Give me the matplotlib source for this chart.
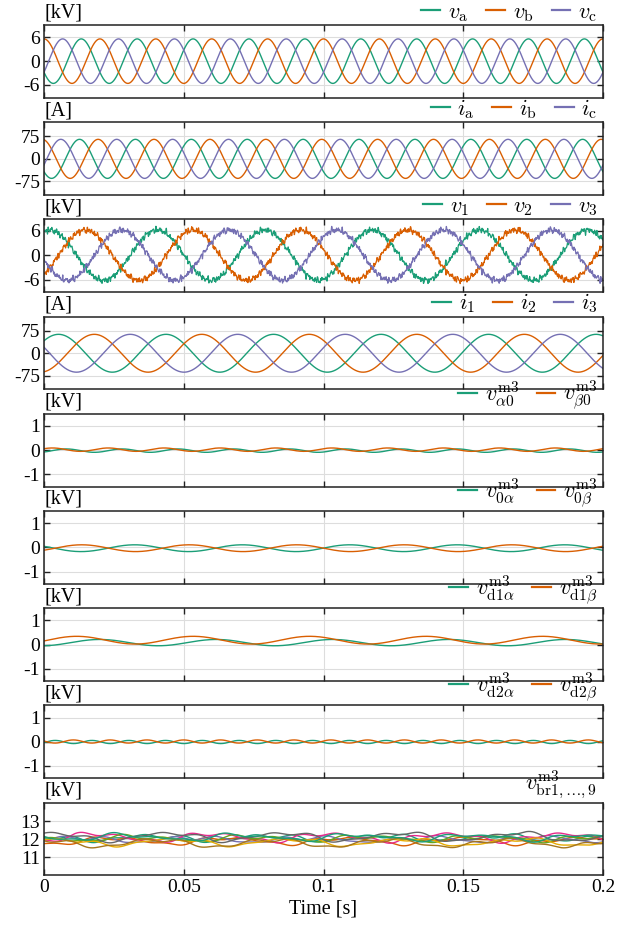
import matplotlib
matplotlib.use("Agg")
import matplotlib.pyplot as plt
import numpy as np

plt.rcParams['font.family'] = ['Liberation Serif', 'DejaVu Serif']
plt.rcParams['mathtext.fontset'] = 'cm'

C_GREEN = '#1b9e77'
C_ORANGE = '#d95f02'
C_PURPLE = '#7570b3'
BR_COLORS = ['#1b9e77', '#d95f02', '#7570b3', '#e7298a', '#66a61e',
             '#e6ab02', '#a6761d', '#666666', '#1b9e77']

# frequencies [Hz]
f_in = 50.0
f_out = 26.0
f_d1 = f_in - f_out
f_d2 = f_in + f_out

# grid side voltages / currents (amplitude, phase of a, b, c)
v_in_amp = 5.6
v_in_phase = [2.094, 0.0, -2.094]
i_in_amp = 65.0
i_in_phase = [2.29, 0.2, -1.89]

# machine side voltages / currents
v_out_amp = 6.2
v_out_phase = [-0.33, -2.42, 1.76]
i_out_amp = 63.0
i_out_phase = [-0.85, -2.94, -5.04]

# switching ripple on v1..v3 (frequency, amplitude, phases per phase)
ripple_freq = [410, 590, 830, 1070, 1330, 1610, 1990, 2410, 2930]
ripple_amp = [0.18, 0.2, 0.2, 0.19, 0.18, 0.17, 0.16, 0.14, 0.12]
ripple_phase = [
    [0.3, 2.1, 4.0, 1.2, 5.5, 3.3, 0.8, 2.7, 4.9],
    [1.7, 4.6, 0.2, 3.9, 2.4, 5.9, 1.1, 4.4, 0.6],
    [5.1, 0.9, 2.8, 5.6, 0.5, 1.8, 3.7, 6.0, 2.3],
]

# alpha-beta-0 circulating voltages [kV]: (amplitude, time of crest, offset)
va0 = [(0.07, 0.008, -0.02), (0.07, 0.003, 0.02)]
v0a = [(0.14, -0.006, -0.035), (0.14, 0.0135, -0.035)]
vd1 = [(0.13, 0.020, 0.08), (0.16, 0.0117, 0.18)]
vd2 = [(0.065, 0.004, -0.01), (0.065, 0.0105, 0.01)]

# branch capacitor voltages [kV]
br_offset = [12.08, 11.92, 12.0, 12.12, 12.05, 11.85, 11.8, 12.15, 12.12]
br_a1 = [0.14, 0.17, 0.12, 0.2, 0.12, 0.17, 0.2, 0.22, 0.14]
br_p1 = [0.5, 2.6, 4.4, 3.5, 1.4, 5.6, 0.2, 5.9, 2.0]
br_a2 = [0.06, 0.05, 0.08, 0.05, 0.07, 0.06, 0.05, 0.06, 0.08]
br_p2 = [3.1, 1.0, 5.2, 2.2, 4.1, 0.6, 2.9, 1.6, 4.8]
br_a3 = [0.08, 0.07, 0.06, 0.09, 0.07, 0.06, 0.08, 0.07, 0.06]
br_p3 = [1.3, 4.2, 2.5, 0.4, 5.3, 3.6, 1.9, 4.7, 0.9]

t = np.linspace(0, 0.2, 4001)
w = 2 * np.pi


def sine(amp, f, ph):
    return amp * np.cos(w * f * t + ph)


def crest(p, f):
    amp, tc, off = p
    return off + amp * np.cos(w * f * (t - tc))


fig = plt.figure(figsize=(6.34, 9.27), dpi=100)
H = 927.0
left, width = 44 / 634, 559 / 634
ax_h = 72.7
axes = []
for k in range(9):
    top = 25 + 97.2 * k
    ax = fig.add_axes([left, 1 - (top + ax_h) / H, width, ax_h / H])
    axes.append(ax)

panels = [
    ('[kV]', [6, 0, -6], (-9.2, 9.1), ['6', '0', '-6']),
    ('[A]', [75, 0, -75], (-120, 122), ['75', '0', '-75']),
    ('[kV]', [6, 0, -6], (-9.1, 8.8), ['6', '0', '-6']),
    ('[A]', [75, 0, -75], (-120, 122), ['75', '0', '-75']),
    ('[kV]', [1, 0, -1], (-1.5, 1.5), ['1', '0', '-1']),
    ('[kV]', [1, 0, -1], (-1.5, 1.5), ['1', '0', '-1']),
    ('[kV]', [1, 0, -1], (-1.5, 1.5), ['1', '0', '-1']),
    ('[kV]', [1, 0, -1], (-1.5, 1.5), ['1', '0', '-1']),
    ('[kV]', [13, 12, 11], (10, 14.05), ['13', '12', '11']),
]

lw = 1.0
# panel 1
names = [r'$v_\mathrm{a}$', r'$v_\mathrm{b}$', r'$v_\mathrm{c}$']
for ph, c, n in zip(v_in_phase, [C_GREEN, C_ORANGE, C_PURPLE], names):
    axes[0].plot(t, sine(v_in_amp, f_in, ph), color=c, lw=lw, label=n)
# panel 2
names = [r'$i_\mathrm{a}$', r'$i_\mathrm{b}$', r'$i_\mathrm{c}$']
for ph, c, n in zip(i_in_phase, [C_GREEN, C_ORANGE, C_PURPLE], names):
    axes[1].plot(t, sine(i_in_amp, f_in, ph), color=c, lw=lw, label=n)
# panel 3
names = [r'$v_1$', r'$v_2$', r'$v_3$']
for k, (ph, c, n) in enumerate(zip(v_out_phase, [C_GREEN, C_ORANGE, C_PURPLE], names)):
    y = sine(v_out_amp, f_out, ph)
    for fr, a, p in zip(ripple_freq, ripple_amp, ripple_phase[k]):
        y = y + sine(a, fr, p)
    axes[2].plot(t, y, color=c, lw=0.9, label=n)
# panel 4
names = [r'$i_1$', r'$i_2$', r'$i_3$']
for ph, c, n in zip(i_out_phase, [C_GREEN, C_ORANGE, C_PURPLE], names):
    axes[3].plot(t, sine(i_out_amp, f_out, ph), color=c, lw=lw, label=n)
# panels 5-8
pairs = [
    (va0, f_in, [r'$v^\mathrm{m3}_{\alpha0}$', r'$v^\mathrm{m3}_{\beta0}$']),
    (v0a, f_out, [r'$v^\mathrm{m3}_{0\alpha}$', r'$v^\mathrm{m3}_{0\beta}$']),
    (vd1, f_d1, [r'$v^\mathrm{m3}_{\mathrm{d}1\alpha}$', r'$v^\mathrm{m3}_{\mathrm{d}1\beta}$']),
    (vd2, f_d2, [r'$v^\mathrm{m3}_{\mathrm{d}2\alpha}$', r'$v^\mathrm{m3}_{\mathrm{d}2\beta}$']),
]
for k, (pp, f, nm) in enumerate(pairs):
    ax = axes[4 + k]
    ax.plot(t, crest(pp[0], f), color=C_GREEN, lw=lw, label=nm[0])
    ax.plot(t, crest(pp[1], f), color=C_ORANGE, lw=lw, label=nm[1])
# panel 9
for k in range(9):
    y = (br_offset[k] + sine(br_a1[k], f_d1, br_p1[k])
         + sine(br_a2[k], f_in, br_p2[k]) + sine(br_a3[k], f_d2, br_p3[k]))
    axes[8].plot(t, y, color=BR_COLORS[k], lw=lw)

for k, ax in enumerate(axes):
    unit, ticks, lim, tl = panels[k]
    ax.set_xlim(0, 0.2)
    ax.set_ylim(*lim)
    ax.set_yticks(ticks)
    ax.set_yticklabels(tl)
    ax.set_xticks([0, 0.05, 0.1, 0.15, 0.2])
    ax.grid(True, color='#dddddd', lw=0.8)
    ax.set_axisbelow(True)
    ax.tick_params(direction='in', top=True, right=True, length=4,
                   width=1.0, labelsize=14, color='#222222', pad=3)
    for s in ax.spines.values():
        s.set_color('#222222')
        s.set_linewidth(1.1)
    ax.text(0, 1.03, unit, transform=ax.transAxes, ha='left', va='bottom',
            fontsize=14.5)
    if k < 8:
        ax.set_xticklabels([])
        leg = ax.legend(loc='lower right', bbox_to_anchor=(0.99, 1.02), ncol=3,
                        frameon=False, fontsize=16, handlelength=0.85,
                        handletextpad=0.35, columnspacing=0.8, borderpad=0,
                        borderaxespad=0)
        for hl in leg.get_lines():
            hl.set_linewidth(1.6)
    else:
        ax.set_xticklabels(['0', '0.05', '0.1', '0.15', '0.2'])
        ax.text(0.99, 1.02, r'$v^\mathrm{m3}_{\mathrm{br}1,\ldots,9}$',
                transform=ax.transAxes, ha='right', va='bottom', fontsize=16)
        ax.set_xlabel('Time [s]', fontsize=14.5, labelpad=2)

fig.savefig('out.png', dpi=100)
